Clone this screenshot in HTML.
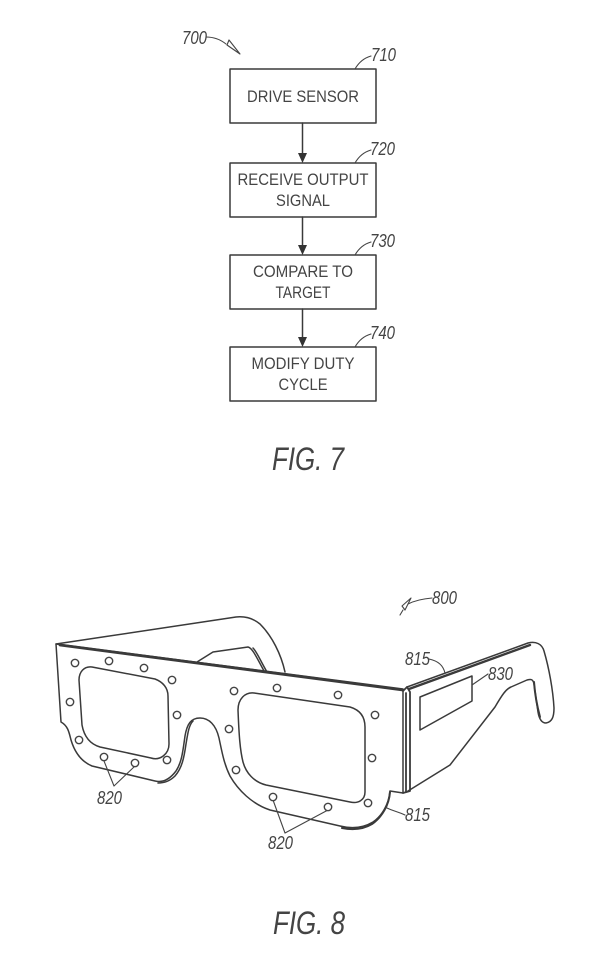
<!DOCTYPE html>
<html><head><meta charset="utf-8"><style>
html,body{margin:0;padding:0;background:#fff}
svg{display:block}
text{font-family:"Liberation Sans",sans-serif;fill:#444}
.i{font-style:italic;font-size:18px}
.b{font-size:17px;text-anchor:middle}
.f{font-style:italic;font-size:32px}
.l{fill:none;stroke:#3a3a3a;stroke-width:1.5;stroke-linejoin:round;stroke-linecap:round}
.t{fill:none;stroke:#444;stroke-width:1.100}
.h{fill:#fff;stroke:#444;stroke-width:1.400}
</style></head><body>
<svg width="615" height="961" viewBox="0 0 615 961" xmlns="http://www.w3.org/2000/svg">
<rect width="615" height="961" fill="#fff"/>
<!-- FIG 7 -->
<g class="l">
<rect x="230" y="69" width="146" height="54"/>
<rect x="230" y="163" width="146" height="54"/>
<rect x="230" y="255" width="146" height="54"/>
<rect x="230" y="347" width="146" height="54"/>
<path d="M302.500 123V156M302.500 217V248M302.500 309V340"/>
<path class="t" d="M206 37C214 37 221 40 226 44M227 45L229 40L240 54Z"/>
<path class="t" d="M355 69C359 62 364 58 371 56M355 163C359 156 364 152 371 150M355 255C359 248 364 244 371 242M355 347C359 340 364 336 371 334"/>
</g>
<path d="M298 153H307L302.500 163ZM298 245H307L302.500 255ZM298 337H307L302.500 347Z" fill="#333"/>
<text class="i" x="182" y="44" textLength="25" lengthAdjust="spacingAndGlyphs">700</text>
<text class="i" x="371" y="61" textLength="25" lengthAdjust="spacingAndGlyphs">710</text>
<text class="i" x="370" y="155" textLength="25" lengthAdjust="spacingAndGlyphs">720</text>
<text class="i" x="370" y="247" textLength="25" lengthAdjust="spacingAndGlyphs">730</text>
<text class="i" x="370" y="339" textLength="25" lengthAdjust="spacingAndGlyphs">740</text>
<text class="b" x="303" y="102" textLength="112" lengthAdjust="spacingAndGlyphs">DRIVE SENSOR</text>
<text class="b" x="303" y="185" textLength="131" lengthAdjust="spacingAndGlyphs">RECEIVE OUTPUT</text>
<text class="b" x="303" y="206" textLength="54" lengthAdjust="spacingAndGlyphs">SIGNAL</text>
<text class="b" x="303" y="277" textLength="100" lengthAdjust="spacingAndGlyphs">COMPARE TO</text>
<text class="b" x="303" y="298" textLength="55" lengthAdjust="spacingAndGlyphs">TARGET</text>
<text class="b" x="303" y="369" textLength="103" lengthAdjust="spacingAndGlyphs">MODIFY DUTY</text>
<text class="b" x="303" y="390" textLength="49" lengthAdjust="spacingAndGlyphs">CYCLE</text>
<text class="f" x="272" y="470" textLength="72" lengthAdjust="spacingAndGlyphs">FIG. 7</text>
<!-- FIG 8 -->
<g class="l">
<!-- far temple -->
<path d="M56 644L236 617C246 616 254 619 260 624C272 636 281 654 285 672"/>
<path d="M197 662L213 652L248 647C252 648 255 654 264 671M253 648C257 652 260 660 267 672"/>
<!-- front -->
<path d="M56 644L403 689L403 793L390 791C389 803 383 815 373 822C363 828 352 829 340 826L270 810C252 804 238 790 230 776C224 764 222 752 219 738C216 725 209 718 200 718C191 718 187 724 185 736C183 750 182 762 176 771C170 779 163 783 155 781L92 766C80 761 74 750 71 740C69 732 68 726 61 722Z"/>
<path d="M60 645L403 690" style="stroke-width:2.800"/>
<path d="M193 721C189 725 188 732 186 744C184 758 182 768 175 776C170 781 165 783 158 783"/>
<path d="M390 792C389 805 382 817 372 824C362 830 352 830 342 828" style="stroke-width:2"/>
<!-- lenses -->
<path d="M79 680C79 672 84 666 92 667L155 679C163 682 168 688 168 696L169 744C169 754 160 761 151 758L100 747C90 744 84 736 82 725Z"/>
<path d="M238 710C238 699 245 692 254 693L350 707C360 710 365 717 365 727L365 792C365 800 358 804 350 802L266 785C254 782 246 773 243 762C240 750 239 735 238 710Z"/>
<!-- right temple -->
<path d="M407 687L528 643C536 641 542 644 544 651C549 668 553 690 554 708C554 717 552 722 546 723C541 723 539 718 538 712L534 684C533 679 531 679 527 680L511 687C506 689 502 695 495 707L450 765L408 791"/>
<path d="M409 689L530 645" style="stroke-width:2.400"/>
<path d="M534 682C535 695 537 706 540 717" style="stroke-width:2"/>
<path d="M403 691L407 687L410 692L410 791L403 793" style="stroke-width:1.800"/>
<path d="M406 693L406 792" style="stroke-width:1.800"/>
<path d="M420 697L472 676L472 701L420 730Z"/>
<!-- leaders -->
<path class="t" d="M432 598C420 599 412 602 408 604M411 598L402 606L405 610Z"/>
<path class="t" d="M403 610L400 615"/>
<path class="t" d="M429 659C438 661 443 665 445 673"/>
<path class="t" d="M472 685L488 674"/>
<path class="t" d="M387 808C393 811 399 812 405 815"/>
<path class="t" d="M104 761L114 786L135 766"/>
<path class="t" d="M273 800L285 833L328 810"/>
</g>
<g class="h">
<circle cx="75" cy="663" r="3.700"/><circle cx="109" cy="661" r="3.700"/><circle cx="144" cy="668" r="3.700"/><circle cx="172" cy="680" r="3.700"/><circle cx="177" cy="715" r="3.700"/><circle cx="167" cy="760" r="3.700"/><circle cx="135" cy="763" r="3.700"/><circle cx="104" cy="757" r="3.700"/><circle cx="79" cy="740" r="3.700"/><circle cx="70" cy="702" r="3.700"/>
<circle cx="234" cy="691" r="3.700"/><circle cx="277" cy="688" r="3.700"/><circle cx="338" cy="695" r="3.700"/><circle cx="375" cy="715" r="3.700"/><circle cx="372" cy="758" r="3.700"/><circle cx="368" cy="803" r="3.700"/><circle cx="328" cy="807" r="3.700"/><circle cx="273" cy="797" r="3.700"/><circle cx="236" cy="770" r="3.700"/><circle cx="229" cy="729" r="3.700"/>
</g>
<text class="i" x="432" y="604" textLength="25" lengthAdjust="spacingAndGlyphs">800</text>
<text class="i" x="405" y="665" textLength="25" lengthAdjust="spacingAndGlyphs">815</text>
<text class="i" x="488" y="680" textLength="25" lengthAdjust="spacingAndGlyphs">830</text>
<text class="i" x="405" y="821" textLength="25" lengthAdjust="spacingAndGlyphs">815</text>
<text class="i" x="97" y="804" textLength="25" lengthAdjust="spacingAndGlyphs">820</text>
<text class="i" x="268" y="849" textLength="25" lengthAdjust="spacingAndGlyphs">820</text>
<text class="f" x="273" y="934" textLength="72" lengthAdjust="spacingAndGlyphs">FIG. 8</text>
</svg>
</body></html>
